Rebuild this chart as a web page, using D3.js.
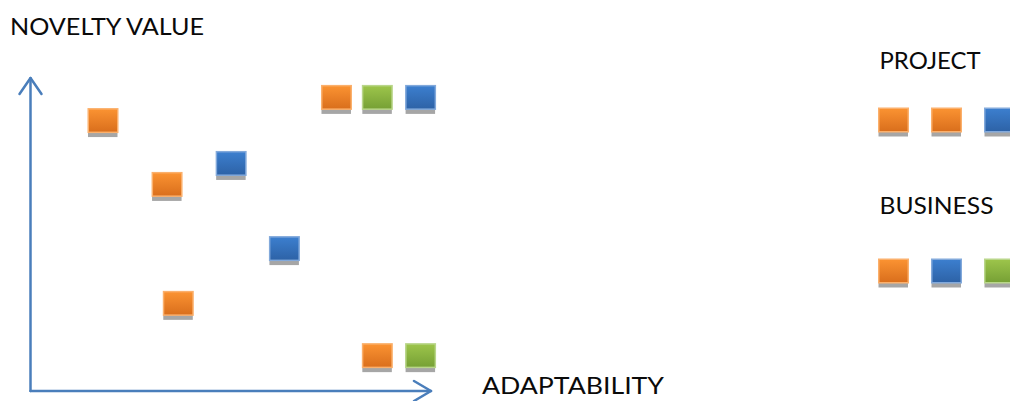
<!DOCTYPE html>
<html>
<head>
<meta charset="utf-8">
<script src="https://cdn.jsdelivr.net/npm/d3@7"></script>
<style>
  html, body { margin: 0; padding: 0; background: #fff; }
  svg { display: block; }
  text { font-family: Lato, "Open Sans", sans-serif; fill: #0a0a0a; }
</style>
</head>
<body>
<svg id="chart" width="1010" height="401"></svg>
<script>
// Ideas placed on the adaptability / novelty plane
const ideaAdaptability = [1.81, 3.41, 5.01, 6.34, 3.69, 7.64, 8.66, 9.74, 8.66, 9.74];
const ideaNovelty      = [8.64, 6.60, 7.27, 4.55, 2.80, 9.38, 9.38, 9.38, 1.13, 1.13];
const ideaKind         = ["orange", "orange", "blue", "blue", "orange", "orange", "green", "blue", "orange", "green"];

// Legend groups
const legendGroups = ["PROJECT", "BUSINESS"];
const legendKinds  = [["orange", "orange", "blue"], ["orange", "blue", "green"]];

// Axis titles
const axisTitleY = "NOVELTY VALUE";
const axisTitleX = "ADAPTABILITY";

const palette = {
  orange: { top: "#fb9332", bottom: "#d96e1c", edge: "#fbb06c" },
  green:  { top: "#9dc54b", bottom: "#76a035", edge: "#b9d68a" },
  blue:   { top: "#3c7fcf", bottom: "#2d62a6", edge: "#82a9db" }
};

const svg = d3.select("#chart");

const x = d3.scaleLinear().domain([0, 10]).range([30.5, 431]);
const y = d3.scaleLinear().domain([0, 10]).range([391, 78]);

const boxW = 31, boxH = 25, shadowDrop = 4;

// gradients for the coloured boxes
const defs = svg.append("defs");
Object.entries(palette).forEach(([k, c]) => {
  const g = defs.append("linearGradient")
    .attr("id", "grad-" + k)
    .attr("x1", 0).attr("y1", 0).attr("x2", 0).attr("y2", 1);
  g.append("stop").attr("offset", "0%").attr("stop-color", c.top);
  g.append("stop").attr("offset", "100%").attr("stop-color", c.bottom);
});

function drawBox(sel, cx, cy, kind) {
  const g = sel.append("g").attr("transform", `translate(${cx - boxW / 2},${cy - boxH / 2})`);
  g.append("rect")
    .attr("x", 0.5).attr("y", shadowDrop)
    .attr("width", boxW - 1.5).attr("height", boxH)
    .attr("fill", "#a6a6a6");
  g.append("rect")
    .attr("x", 0.75).attr("y", 0.75)
    .attr("width", boxW - 1.5).attr("height", boxH - 1.5)
    .attr("fill", `url(#grad-${kind})`)
    .attr("stroke", palette[kind].edge)
    .attr("stroke-width", 1.5);
}

// axes drawn as open-headed arrows
const axisColor = "#4a7ebb";
const axes = svg.append("g")
  .attr("fill", "none")
  .attr("stroke", axisColor)
  .attr("stroke-width", 2.5)
  .attr("stroke-linecap", "round")
  .attr("stroke-linejoin", "round");

const x0 = x(0), y0 = y(0), yTop = y(10), xEnd = x(10);
axes.append("path").attr("d", d3.line()([[x0, y0], [x0, yTop]]));
axes.append("path").attr("d", d3.line()([[x0, y0], [xEnd, y0]]));
// arrow heads
axes.append("path").attr("d", d3.line()([[x0 - 11, yTop + 16], [x0, yTop], [x0 + 11, yTop + 16]]));
axes.append("path").attr("d", d3.line()([[xEnd - 17, y0 - 10], [xEnd, y0], [xEnd - 17, y0 + 10]]));

// idea boxes
const marks = svg.append("g");
ideaKind.forEach((k, i) => {
  drawBox(marks, x(ideaAdaptability[i]), y(ideaNovelty[i]), k);
});

function label(txt, lx, ly, width) {
  svg.append("text")
    .attr("x", lx).attr("y", ly)
    .attr("font-size", 23.5)
    .attr("textLength", width)
    .attr("lengthAdjust", "spacingAndGlyphs")
    .text(txt);
}

// axis titles
label(axisTitleY, 10, 34.5, 194);
label(axisTitleX, 482, 393.5, 182);

// legend
const legendX = d3.scalePoint().domain([0, 1, 2]).range([893.5, 999.5]);
const legendTitleY = [69, 214];
const legendBoxY = [120, 271];
const legendTitleW = [101, 114];
legendGroups.forEach((name, gi) => {
  label(name, 879.5, legendTitleY[gi], legendTitleW[gi]);
  legendKinds[gi].forEach((k, j) => {
    drawBox(svg, legendX(j), legendBoxY[gi], k);
  });
});
</script>
</body>
</html>
